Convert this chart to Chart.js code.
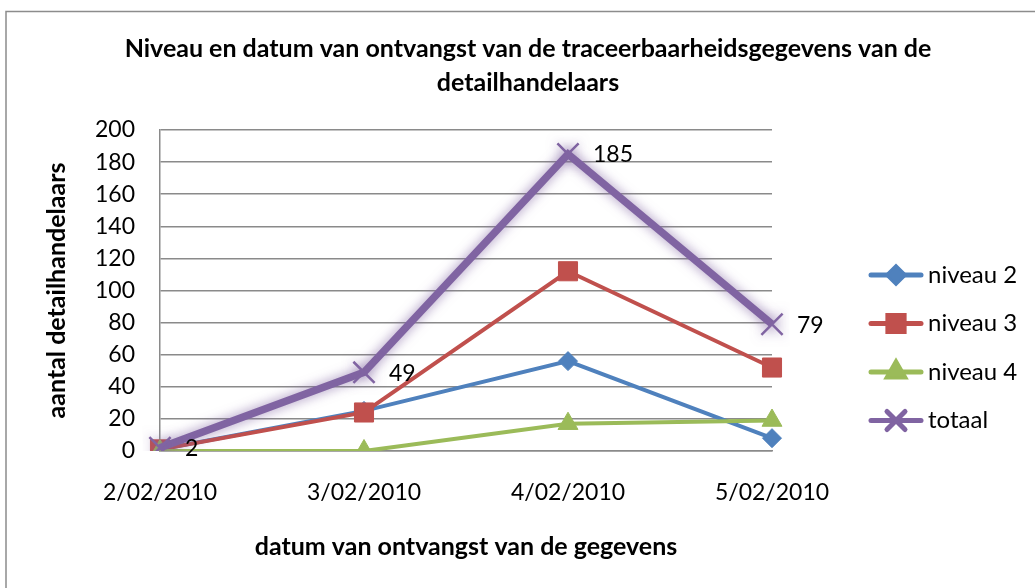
<!DOCTYPE html>
<html>
<head>
<meta charset="utf-8">
<script src="https://cdn.jsdelivr.net/npm/chart.js@4.4.1/dist/chart.umd.min.js"></script>
<style>
  html, body { margin: 0; padding: 0; background: #fff; }
  #wrap { width: 1035px; height: 588px; position: relative; }
</style>
</head>
<body>
<div id="wrap"><canvas id="linechart"></canvas></div>
<script>
const dates = ['2/02/2010', '3/02/2010', '4/02/2010', '5/02/2010'];
const niveau2 = [1, 25, 56, 8];
const niveau3 = [1, 24, 112, 52];
const niveau4 = [0, 0, 17, 19];
const totaal = [2, 49, 185, 79];
const seriesNames = ['niveau 2', 'niveau 3', 'niveau 4', 'totaal'];
const yTicks = [0, 20, 40, 60, 80, 100, 120, 140, 160, 180, 200];

const titleLines = ['Niveau en datum van ontvangst van de traceerbaarheidsgegevens van de', 'detailhandelaars'];
const FONT = 'Lato, "Liberation Sans", sans-serif';
const gridGrey = '#8a8a8a';

// white page + grey frame + chart title
const framePlugin = {
  id: 'frame',
  beforeDraw(chart) {
    const ctx = chart.ctx;
    ctx.save();
    ctx.fillStyle = '#fff';
    ctx.fillRect(0, 0, chart.width, chart.height);
    ctx.strokeStyle = '#8c8c8c';
    ctx.lineWidth = 1.5;
    ctx.strokeRect(6, 11.5, 1200, 800);
    ctx.restore();
  },
  afterDraw(chart) {
    const ctx = chart.ctx;
    ctx.save();
    ctx.fillStyle = '#000';
    ctx.font = 'bold 25px ' + FONT;
    ctx.textAlign = 'center';
    ctx.textBaseline = 'middle';
    ctx.fillText(titleLines[0], 528, 49);
    ctx.fillText(titleLines[1], 528, 83);
    ctx.restore();
  }
};

// glow under the total line
const glowPlugin = {
  id: 'glow',
  beforeDatasetDraw(chart, args) {
    if (args.index !== 3) return;
    const ctx = chart.ctx;
    ctx.save();
    ctx.shadowColor = 'rgba(128, 100, 162, 0.75)';
    ctx.shadowBlur = 12;
  },
  afterDatasetDraw(chart, args) {
    if (args.index !== 3) return;
    chart.ctx.restore();
  }
};

// value labels for totaal
const labelPlugin = {
  id: 'totLabels',
  afterDatasetsDraw(chart) {
    const ctx = chart.ctx;
    const meta = chart.getDatasetMeta(3);
    ctx.save();
    ctx.fillStyle = '#000';
    ctx.font = '23px ' + FONT;
    ctx.textAlign = 'left';
    ctx.textBaseline = 'middle';
    meta.data.forEach((pt, i) => {
      ctx.fillText(String(totaal[i]), pt.x + 25, pt.y + 1);
    });
    ctx.restore();
  }
};

// legend on the right: line + marker + name
const legendPlugin = {
  id: 'sideLegend',
  afterDraw(chart) {
    const ctx = chart.ctx;
    ctx.save();
    chart.data.datasets.forEach((ds, i) => {
      const y = 275 + i * 48.5;
      ctx.strokeStyle = ds.borderColor;
      ctx.lineWidth = 5;
      ctx.lineCap = 'round';
      ctx.beginPath();
      ctx.moveTo(871, y);
      ctx.lineTo(921, y);
      ctx.stroke();
      Chart.helpers.drawPoint(ctx, {
        pointStyle: ds.pointStyle,
        radius: ds.pointRadius * 0.85,
        rotation: 0,
        borderWidth: ds.pointBorderWidth
      }, 896, y);
      ctx.fillStyle = ds.pointBackgroundColor;
      ctx.strokeStyle = ds.pointBorderColor;
      ctx.lineWidth = ds.pointBorderWidth;
      if (ds.pointStyle !== 'crossRot') ctx.fill();
      ctx.stroke();
      ctx.fillStyle = '#000';
      ctx.font = '24px ' + FONT;
      ctx.textAlign = 'left';
      ctx.textBaseline = 'middle';
      ctx.fillText(ds.label, 928, y);
    });
    ctx.restore();
  }
};

const ctx = document.getElementById('linechart');

new Chart(ctx, {
  type: 'line',
  data: {
    labels: dates,
    datasets: [
      {
        label: seriesNames[0], data: niveau2, order: 4,
        borderColor: '#4F81BD', borderWidth: 4,
        pointStyle: 'rectRot', pointRadius: 9.5, pointBorderWidth: 1,
        pointBackgroundColor: '#4F81BD', pointBorderColor: '#4F81BD'
      },
      {
        label: seriesNames[1], data: niveau3, order: 3,
        borderColor: '#C0504D', borderWidth: 4,
        pointStyle: 'rect', pointRadius: 13.5, pointBorderWidth: 1,
        pointBackgroundColor: '#C0504D', pointBorderColor: '#C0504D'
      },
      {
        label: seriesNames[2], data: niveau4, order: 2,
        borderColor: '#9BBB59', borderWidth: 4,
        pointStyle: 'triangle', pointRadius: 11.5, pointBorderWidth: 1,
        pointBackgroundColor: '#9BBB59', pointBorderColor: '#9BBB59'
      },
      {
        label: seriesNames[3], data: totaal, order: 1,
        borderColor: '#8064A2', borderWidth: 7.5,
        pointStyle: 'crossRot', pointRadius: 15, pointBorderWidth: 2.5,
        pointBackgroundColor: '#8064A2', pointBorderColor: '#8064A2'
      }
    ]
  },
  options: {
    responsive: true,
    maintainAspectRatio: false,
    animation: false,
    layout: { padding: { left: 0, top: 130, right: 263, bottom: 0 } },
    elements: { line: { tension: 0 } },
    plugins: {
      legend: { display: false },
      title: { display: false },
      tooltip: { enabled: false }
    },
    scales: {
      x: {
        offset: false,
        grid: { display: false, drawTicks: false },
        border: { display: true, color: gridGrey, width: 1.5 },
        ticks: { color: '#000', padding: 28, maxRotation: 0, font: { family: FONT, size: 23 } },
        title: {
          display: true, text: 'datum van ontvangst van de gegevens', color: '#000',
          font: { family: FONT, size: 25, weight: 'bold' }, padding: { top: 0, bottom: 26 }
        },
        afterFit(scale) { scale.height = 137; }
      },
      y: {
        min: 0, max: 200,
        afterBuildTicks(scale) { scale.ticks = yTicks.map(v => ({ value: v })); },
        grid: { color: gridGrey, lineWidth: 1.5, drawTicks: false },
        border: { display: true, color: gridGrey, width: 1.5 },
        ticks: { color: '#000', padding: 25, font: { family: FONT, size: 23 } },
        title: {
          display: true, text: 'aantal detailhandelaars', color: '#000',
          font: { family: FONT, size: 25, weight: 'bold' }, padding: { top: 42, bottom: 0 }
        },
        afterFit(scale) { scale.width = 160; }
      }
    }
  },
  plugins: [framePlugin, glowPlugin, labelPlugin, legendPlugin]
});
</script>
</body>
</html>
